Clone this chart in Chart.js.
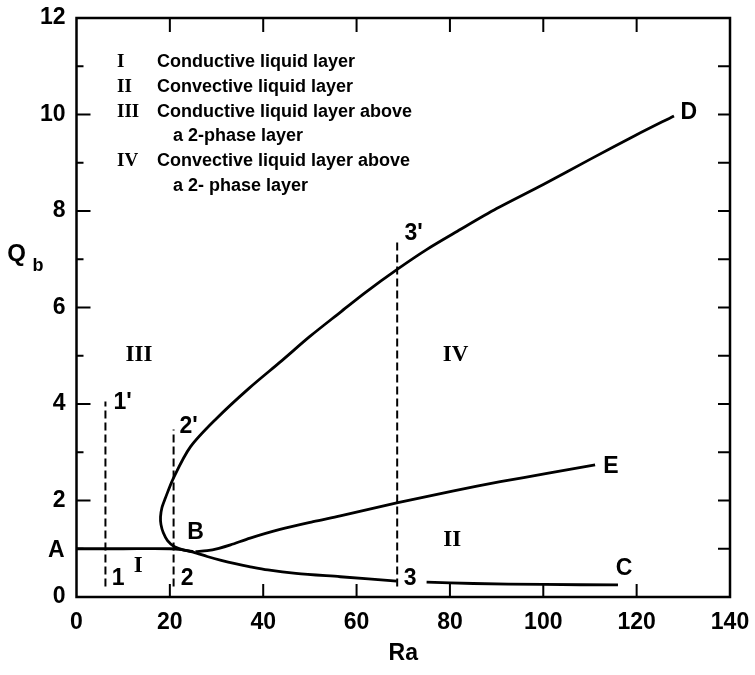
<!DOCTYPE html>
<html>
<head>
<meta charset="utf-8">
<title>Qb vs Ra</title>
<script src="https://cdn.jsdelivr.net/npm/chart.js@4.4.0/dist/chart.umd.min.js"></script>
<style>
  html, body { margin: 0; padding: 0; background: #fff; }
  #wrap { width: 755px; height: 675px; position: relative; }
</style>
</head>
<body>
<div id="wrap"><canvas id="chart"></canvas></div>
<script>
// values

// A -> B -> 3 (lower branch)
const lowerRa = [0, 10, 20, 22.5, 25, 28, 31, 34, 37, 41, 47, 56.5, 68.6];
const lowerQb = [1.0, 1.0, 1.0, 0.98, 0.93, 0.84, 0.76, 0.69, 0.63, 0.56, 0.49, 0.42, 0.33];

// past point 3 -> C
const tailRa = [75, 85, 100, 116];
const tailQb = [0.31, 0.28, 0.26, 0.25];

// B -> nose -> D (upper branch)
const upperRa = [25, 23, 21, 19.5, 18.6, 18.1, 18.0, 18.3, 19.0, 20.7, 24.4, 30, 37, 44, 50, 56.5, 62, 68.7, 75, 81.6, 90, 100, 110, 120, 128];
const upperQb = [0.94, 0.97, 1.04, 1.17, 1.33, 1.5, 1.66, 1.85, 2.04, 2.45, 3.11, 3.70, 4.33, 4.90, 5.40, 5.90, 6.32, 6.79, 7.20, 7.58, 8.05, 8.55, 9.07, 9.58, 9.97];

// B -> E (middle branch)
const midRa = [25.5, 28, 30.5, 33, 37.2, 43.6, 50.7, 56.5, 68.6, 80.8, 90.8, 100.8, 111.1];
const midQb = [0.94, 0.96, 1.01, 1.08, 1.22, 1.40, 1.56, 1.68, 1.95, 2.2, 2.39, 2.56, 2.74];

// dashed verticals 1-1', 2-2', 3-3'
const dashRa = [6.2, 20.8, 68.7];
const dashBottom = [0.22, 0.22, 0.22];
const dashTop = [4.05, 3.47, 7.42];

// point labels
const pointLabels = ['A', 'B', 'C', 'D', 'E', '1', "1'", '2', "2'", '3', "3'"];
const pointRa = [-4.3, 25.5, 117.3, 131.2, 114.5, 8.9, 9.9, 23.7, 24.0, 71.5, 72.2];
const pointQb = [0.96, 1.34, 0.59, 10.03, 2.70, 0.37, 4.02, 0.38, 3.53, 0.38, 7.54];

// region labels
const regionLabels = ['I', 'II', 'III', 'IV'];
const regionRa = [13.2, 80.5, 13.4, 81.2];
const regionQb = [0.64, 1.18, 5.02, 5.02];

// key in the top left corner
const keyNumerals = ['I', 'II', 'III', '', 'IV', ''];
const keyTexts = ['Conductive liquid layer', 'Convective liquid layer', 'Conductive liquid layer above',
                  'a 2-phase layer', 'Convective liquid layer above', 'a 2- phase layer'];

const xTicks = [0, 20, 40, 60, 80, 100, 120, 140];
const yTicks = [0, 2, 4, 6, 8, 10, 12];

const SANS = '"Liberation Sans", Arial, Helvetica, sans-serif';
const SERIF = '"Liberation Serif", "Times New Roman", serif';

function toPoints(xs, ys) {
    return xs.map((v, i) => ({ x: v, y: ys[i] }));
}

function curve(xs, ys) {
    return {
        data: toPoints(xs, ys),
        showLine: true,
        borderColor: '#000',
        borderWidth: 2.8,
        pointRadius: 0,
        tension: 0.3,
        fill: false
    };
}

function dashed(i) {
    return {
        data: [{ x: dashRa[i], y: dashBottom[i] }, { x: dashRa[i], y: dashTop[i] }],
        showLine: true,
        borderColor: '#000',
        borderWidth: 2,
        borderDash: [8, 4],
        pointRadius: 0,
        fill: false
    };
}

const datasets = [
    curve(lowerRa, lowerQb),
    curve(tailRa, tailQb),
    curve(upperRa, upperQb),
    curve(midRa, midQb),
    dashed(0), dashed(1), dashed(2)
];

// frame, inward ticks and all annotation text
const annotate = {
    id: 'annotate',
    afterDatasetsDraw(chart) {
        const { ctx, chartArea: a, scales: { x, y } } = chart;
        ctx.save();
        ctx.strokeStyle = '#000';
        ctx.lineWidth = 2.5;
        ctx.strokeRect(a.left, a.top, a.right - a.left, a.bottom - a.top);

        ctx.lineWidth = 2;
        ctx.beginPath();
        x.ticks.forEach(t => {
            if (t.value <= x.min || t.value >= x.max) return;
            const px = x.getPixelForValue(t.value);
            ctx.moveTo(px, a.bottom); ctx.lineTo(px, a.bottom - 13);
            ctx.moveTo(px, a.top); ctx.lineTo(px, a.top + 14);
        });
        y.ticks.forEach(t => {
            if (t.value <= y.min || t.value >= y.max) return;
            const py = y.getPixelForValue(t.value);
            const len = t.value % 2 === 0 ? 14 : 7;
            ctx.moveTo(a.left, py); ctx.lineTo(a.left + len, py);
            ctx.moveTo(a.right, py); ctx.lineTo(a.right - 12, py);
        });
        ctx.stroke();

        ctx.fillStyle = '#000';
        ctx.textAlign = 'center';
        ctx.textBaseline = 'middle';

        ctx.font = 'bold 23px ' + SANS;
        pointLabels.forEach((txt, i) => {
            ctx.fillText(txt, x.getPixelForValue(pointRa[i]), y.getPixelForValue(pointQb[i]));
        });

        ctx.font = 'bold 23px ' + SERIF;
        regionLabels.forEach((txt, i) => {
            ctx.fillText(txt, x.getPixelForValue(regionRa[i]), y.getPixelForValue(regionQb[i]));
        });

        // axis titles
        ctx.font = 'bold 23px ' + SANS;
        ctx.fillText('Ra', (a.left + a.right) / 2, 654);
        ctx.font = 'bold 24px ' + SANS;
        ctx.fillText('Q', a.left - 60, 254);
        ctx.font = 'bold 18px ' + SANS;
        ctx.fillText('b', a.left - 38.5, 266);

        // key
        ctx.textAlign = 'left';
        ctx.textBaseline = 'alphabetic';
        keyTexts.forEach((txt, i) => {
            const base = a.top + 49 + i * 24.8;
            if (keyNumerals[i]) {
                ctx.font = 'bold 19px ' + SERIF;
                ctx.fillText(keyNumerals[i], a.left + 40.5, base);
                ctx.font = 'bold 18px ' + SANS;
                ctx.fillText(txt, a.left + 80.5, base);
            } else {
                ctx.font = 'bold 18px ' + SANS;
                ctx.fillText(txt, a.left + 96.5, base);
            }
        });
        ctx.restore();
    }
};

new Chart(document.getElementById('chart').getContext('2d'), {
    type: 'scatter',
    data: { datasets },
    options: {
        responsive: true,
        maintainAspectRatio: false,
        animation: false,
        layout: { padding: { top: 18, right: 25, left: 0, bottom: 0 } },
        plugins: {
            legend: { display: false },
            tooltip: { enabled: false }
        },
        scales: {
            x: {
                type: 'linear',
                min: 0,
                max: 140,
                afterFit: s => { s.height = 78; },
                afterBuildTicks: s => { s.ticks = xTicks.map(v => ({ value: v })); },
                grid: { display: false },
                border: { display: false },
                ticks: {
                    padding: 4,
                    maxRotation: 0,
                    color: '#000',
                    font: { family: SANS, size: 23, weight: 'bold' }
                }
            },
            y: {
                type: 'linear',
                min: 0,
                max: 12,
                afterFit: s => { s.width = 76.5; },
                afterBuildTicks: s => {
                    const all = [];
                    for (let v = 0; v <= 12; v++) all.push({ value: v });
                    s.ticks = all;
                },
                grid: { display: false },
                border: { display: false },
                ticks: {
                    padding: 3,
                    color: '#000',
                    font: { family: SANS, size: 23, weight: 'bold' },
                    callback: v => yTicks.includes(v) ? String(v) : ''
                }
            }
        }
    },
    plugins: [annotate]
});
</script>
</body>
</html>
